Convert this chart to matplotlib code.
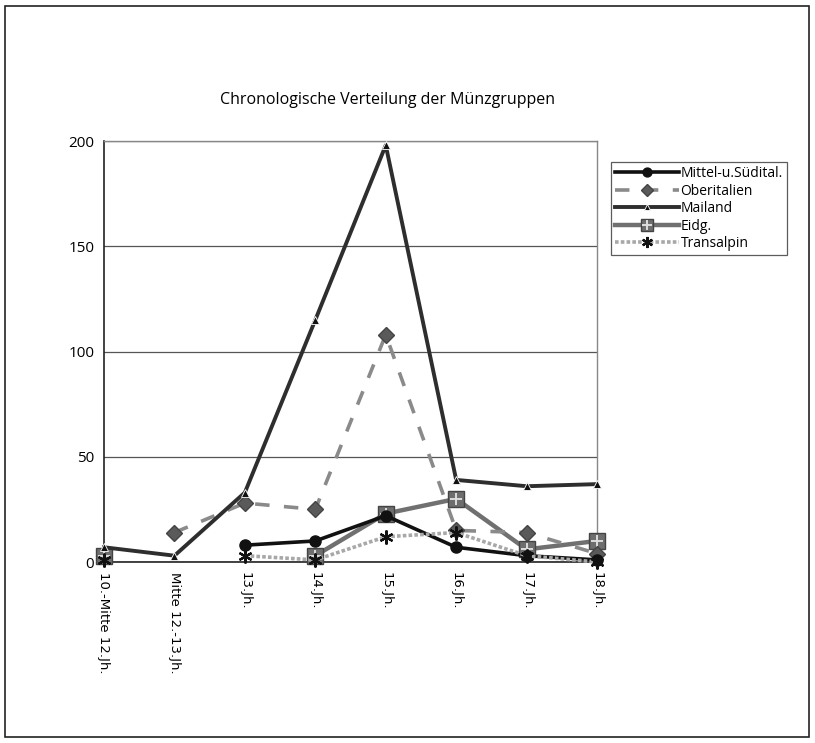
import numpy as np
import matplotlib
matplotlib.use("Agg")
import matplotlib.pyplot as plt
from matplotlib.patches import Rectangle
from matplotlib.legend_handler import HandlerTuple

nan = np.nan

# Zeitabschnitte (x-Achse)
perioden = ['10.-Mitte 12.Jh.', 'Mitte 12.-13.Jh.', '13.Jh.', '14.Jh.',
            '15.Jh.', '16.Jh.', '17.Jh.', '18.Jh.']

# Fundzahlen je Münzgruppe
mittel_sued = [nan, nan, 8, 10, 22, 7, 3, 1]
oberitalien = [nan, 14, 28, 25, 108, 15, 14, 4]
mailand = [7, 3, 33, 115, 198, 39, 36, 37]
eidg = [3, nan, nan, 3, 23, 30, 6, 10]
transalpin = [1, nan, 3, 1, 12, 14, 3, 0]

y_ticks = [0, 50, 100, 150, 200]

fig = plt.figure(figsize=(8.15, 7.43), dpi=100)
ax = fig.add_axes([0.1276, 0.2436, 0.605, 0.5666])
x = np.arange(len(perioden))

l1, = ax.plot(x, mittel_sued, color='#111111', lw=2.6, marker='o',
              ms=8, mfc='#111111', mec='#111111', zorder=6, clip_on=False)
l2, = ax.plot(x, oberitalien, color='#8a8a8a', lw=2.6, ls=(0, (4, 4)),
              marker='D', ms=8, mfc='#5a5a5a', mec='#444444', zorder=4,
              clip_on=False)
l3, = ax.plot(x, mailand, color='#2e2e2e', lw=2.8, marker='^',
              ms=6, mfc='#111111', mec='white', mew=0.6, zorder=5, clip_on=False)
l4, = ax.plot(x, eidg, color='#707070', lw=3.2, marker='s',
              ms=11, mfc='#6e6e6e', mec='#444444', zorder=3, clip_on=False)
l4p, = ax.plot(x, eidg, ls='none', marker='+', ms=9, mew=1.4,
               color='#dddddd', zorder=3.5, clip_on=False)
l5, = ax.plot(x, transalpin, color='#a8a8a8', lw=2.6, ls=(0, (1, 0.6)),
              marker=(6, 2, 0), ms=10, mew=1.6, mec='#111111', zorder=7,
              clip_on=False)

ax.set_xlim(0, len(perioden) - 1)
ax.set_ylim(0, 200)
ax.set_yticks(y_ticks)
ax.set_yticklabels([str(v) for v in y_ticks], fontsize=11,
                   family=['Open Sans', 'DejaVu Sans'])
ax.tick_params(axis='y', length=0, pad=7)
ax.set_xticks(x)
ax.set_xticklabels(perioden, rotation=270, fontsize=9.5,
                   family='DejaVu Sans', va='top', ha='center')
ax.tick_params(axis='x', length=0, pad=7)

ax.grid(axis='y', color='#555555', lw=0.9)
ax.set_axisbelow(True)
for side in ['left', 'bottom']:
    ax.spines[side].set_color('#222222')
    ax.spines[side].set_linewidth(1.2)
for side in ['top', 'right']:
    ax.spines[side].set_color('#888888')
    ax.spines[side].set_linewidth(1.0)

fig.text(387 / 815, 1 - 100 / 743, 'Chronologische Verteilung der Münzgruppen',
         ha='center', va='center', fontsize=11.5,
         family=['Open Sans', 'DejaVu Sans'])

leg = fig.legend([l1, l2, l3, (l4, l4p), l5],
                 ['Mittel-u.Südital.', 'Oberitalien', 'Mailand', 'Eidg.', 'Transalpin'],
                 handler_map={tuple: HandlerTuple(ndivide=1, pad=0)},
                 loc='upper left', bbox_to_anchor=(611 / 815, 1 - 162 / 743),
                 borderaxespad=0, frameon=True, fancybox=False, borderpad=0.3,
                 labelspacing=0.18, handlelength=4.6, handletextpad=0.1,
                 markerscale=0.8,
                 prop={'family': ['Open Sans', 'DejaVu Sans'], 'size': 10})
leg.get_frame().set_edgecolor('#333333')
leg.get_frame().set_linewidth(0.9)

# Rahmen um das ganze Diagramm
fig.patches.append(Rectangle((5 / 815, 6 / 743), 804 / 815, 731 / 743,
                             transform=fig.transFigure, fill=False,
                             edgecolor='#222222', lw=1.2))

fig.savefig('out.png', dpi=100, facecolor='white')
